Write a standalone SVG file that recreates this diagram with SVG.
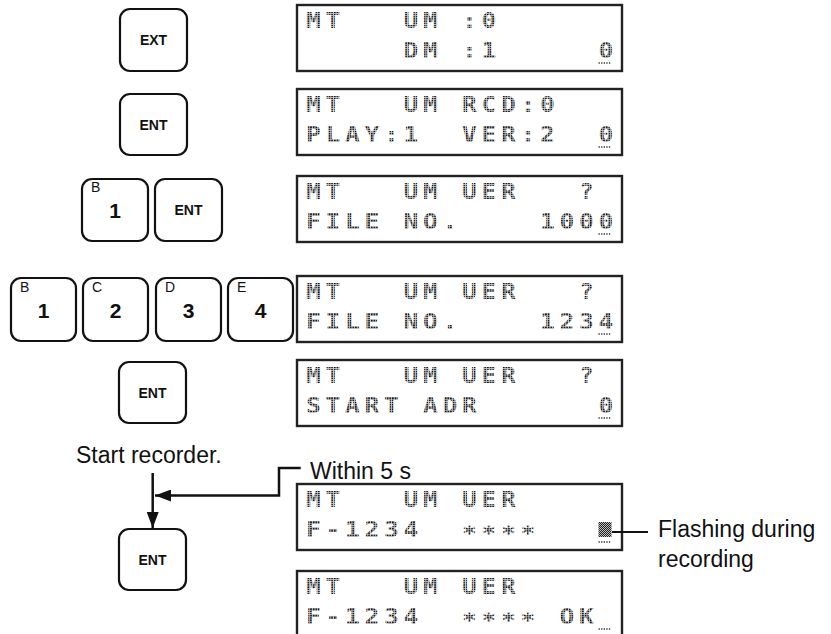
<svg xmlns="http://www.w3.org/2000/svg" width="831" height="634" viewBox="0 0 831 634">
<defs>
<style>
.key{fill:#fff;stroke:#111;stroke-width:2.2}
.kl{font-family:"Liberation Sans",Arial,sans-serif;font-weight:bold;font-size:14px;text-anchor:middle;fill:#111}
.kn{font-family:"Liberation Sans",Arial,sans-serif;font-weight:bold;font-size:21px;text-anchor:middle;fill:#111}
.ks{font-family:"Liberation Sans",Arial,sans-serif;font-size:14px;fill:#111}
.lcd{fill:#fff;stroke:#222;stroke-width:2.4}
.lt{font-family:"DejaVu Sans Mono",monospace;font-weight:bold;font-size:20.5px;letter-spacing:3.91px;fill:url(#dots)}
.lbl{font-family:"Liberation Sans",Arial,sans-serif;font-size:23px;fill:#111}
.cur{stroke:#333;stroke-width:1.6;stroke-dasharray:1.3 1.3;fill:none}
.con{fill:none;stroke:#111;stroke-width:2.5}
</style>
<pattern id="dots" width="2.2" height="2.2" patternUnits="userSpaceOnUse">
<rect width="2.2" height="2.2" fill="#c8c8c8"/>
<rect width="1.35" height="1.5" fill="#111"/>
</pattern>
<marker id="ah" viewBox="0 0 16 12" refX="16" refY="6" markerWidth="16" markerHeight="12" markerUnits="userSpaceOnUse" orient="auto">
<path d="M0,0 L16,6 L0,12 Z" fill="#111"/>
</marker>
<pattern id="chk" width="2" height="2" patternUnits="userSpaceOnUse">
<rect width="2" height="2" fill="#bbb"/>
<rect width="1" height="1" fill="#222"/>
<rect x="1" y="1" width="1" height="1" fill="#222"/>
</pattern>
</defs>

<!-- keys -->
<g id="key-ext"><rect class="key" x="120" y="9" width="67" height="62" rx="10"/><text class="kl" x="153.5" y="45">EXT</text></g>
<g id="key-ent1"><rect class="key" x="120" y="94" width="67" height="61" rx="10"/><text class="kl" x="153.5" y="129.5">ENT</text></g>
<g id="key-b1a"><rect class="key" x="82" y="179" width="66" height="62" rx="10"/><text class="ks" x="91" y="192">B</text><text class="kn" x="115" y="218">1</text></g>
<g id="key-ent2"><rect class="key" x="155" y="179" width="67" height="62" rx="10"/><text class="kl" x="188.5" y="215">ENT</text></g>
<g id="key-b1b"><rect class="key" x="11" y="278" width="65" height="63" rx="10"/><text class="ks" x="20" y="292">B</text><text class="kn" x="43.5" y="318">1</text></g>
<g id="key-c2"><rect class="key" x="83" y="278" width="65" height="63" rx="10"/><text class="ks" x="92" y="292">C</text><text class="kn" x="115.5" y="318">2</text></g>
<g id="key-d3"><rect class="key" x="156" y="278" width="65" height="63" rx="10"/><text class="ks" x="165" y="292">D</text><text class="kn" x="188.5" y="318">3</text></g>
<g id="key-e4"><rect class="key" x="228" y="278" width="65" height="63" rx="10"/><text class="ks" x="237" y="292">E</text><text class="kn" x="260.5" y="318">4</text></g>
<g id="key-ent3"><rect class="key" x="119" y="362" width="67" height="61" rx="10"/><text class="kl" x="152.5" y="397.5">ENT</text></g>
<g id="key-ent4"><rect class="key" x="119" y="529" width="67" height="61" rx="10"/><text class="kl" x="152.5" y="564.5">ENT</text></g>

<!-- LCD displays -->
<g id="lcd1" transform="translate(297,5)">
<rect class="lcd" x="0" y="0" width="325" height="66"/>
<g transform="scale(1.2,1)">
<text class="lt" x="7.5" y="23">MT</text><text class="lt" x="88.75" y="23">UM</text><text class="lt" x="137.5" y="23">:0</text>
<text class="lt" x="88.75" y="53">DM</text><text class="lt" x="137.5" y="53">:1</text><text class="lt" x="251.25" y="53">0</text>
</g>
<line class="cur" x1="301.5" y1="58" x2="314.5" y2="58"/>
</g>
<g id="lcd2" transform="translate(297,89)">
<rect class="lcd" x="0" y="0" width="325" height="66"/>
<g transform="scale(1.2,1)">
<text class="lt" x="7.5" y="23">MT</text><text class="lt" x="88.75" y="23">UM</text><text class="lt" x="137.5" y="23">RCD:0</text>
<text class="lt" x="7.5" y="53">PLAY:1</text><text class="lt" x="137.5" y="53">VER:2</text><text class="lt" x="251.25" y="53">0</text>
</g>
<line class="cur" x1="301.5" y1="58" x2="314.5" y2="58"/>
</g>
<g id="lcd3" transform="translate(297,176)">
<rect class="lcd" x="0" y="0" width="325" height="66"/>
<g transform="scale(1.2,1)">
<text class="lt" x="7.5" y="23">MT</text><text class="lt" x="88.75" y="23">UM</text><text class="lt" x="137.5" y="23">UER</text><text class="lt" x="235" y="23">?</text>
<text class="lt" x="7.5" y="53">FILE</text><text class="lt" x="88.75" y="53">NO.</text><text class="lt" x="202.5" y="53">1000</text>
</g>
<line class="cur" x1="301.5" y1="58" x2="314.5" y2="58"/>
</g>
<g id="lcd4" transform="translate(297,276)">
<rect class="lcd" x="0" y="0" width="325" height="66"/>
<g transform="scale(1.2,1)">
<text class="lt" x="7.5" y="23">MT</text><text class="lt" x="88.75" y="23">UM</text><text class="lt" x="137.5" y="23">UER</text><text class="lt" x="235" y="23">?</text>
<text class="lt" x="7.5" y="53">FILE</text><text class="lt" x="88.75" y="53">NO.</text><text class="lt" x="202.5" y="53">1234</text>
</g>
<line class="cur" x1="301.5" y1="58" x2="314.5" y2="58"/>
</g>
<g id="lcd5" transform="translate(297,360)">
<rect class="lcd" x="0" y="0" width="325" height="66"/>
<g transform="scale(1.2,1)">
<text class="lt" x="7.5" y="23">MT</text><text class="lt" x="88.75" y="23">UM</text><text class="lt" x="137.5" y="23">UER</text><text class="lt" x="235" y="23">?</text>
<text class="lt" x="7.5" y="53">START</text><text class="lt" x="105" y="53">ADR</text><text class="lt" x="251.25" y="53">0</text>
</g>
<line class="cur" x1="301.5" y1="58" x2="314.5" y2="58"/>
</g>
<g id="lcd6" transform="translate(297,484)">
<rect class="lcd" x="0" y="0" width="325" height="66"/>
<g transform="scale(1.2,1)">
<text class="lt" x="7.5" y="23">MT</text><text class="lt" x="88.75" y="23">UM</text><text class="lt" x="137.5" y="23">UER</text>
<text class="lt" x="7.5" y="53">F-1234</text><text class="lt" x="137.5" y="57">****</text>
</g>
<rect x="301.5" y="38" width="13" height="15" fill="url(#chk)"/>
<line class="cur" x1="301.5" y1="58" x2="314.5" y2="58"/>
</g>
<g id="lcd7" transform="translate(297,571)">
<rect class="lcd" x="0" y="0" width="325" height="70"/>
<g transform="scale(1.2,1)">
<text class="lt" x="7.5" y="23">MT</text><text class="lt" x="88.75" y="23">UM</text><text class="lt" x="137.5" y="23">UER</text>
<text class="lt" x="7.5" y="53">F-1234</text><text class="lt" x="137.5" y="57">****</text><text class="lt" x="218.75" y="53">OK</text>
</g>
<line class="cur" x1="301.5" y1="58" x2="314.5" y2="58"/>
</g>

<!-- labels -->
<g id="labels">
<text class="lbl" x="76" y="463">Start recorder.</text>
<text class="lbl" x="310" y="479">Within 5 s</text>
<text class="lbl" x="658" y="537">Flashing during</text>
<text class="lbl" x="658" y="567">recording</text>
</g>

<!-- connectors -->
<g id="connectors">
<path class="con" d="M152.7,473 V528" marker-end="url(#ah)"/>
<path class="con" d="M300.7,468 H279 V495.5 H155" marker-end="url(#ah)"/>
<path class="con" d="M612,532 H648" style="stroke-width:2"/>
</g>
</svg>
